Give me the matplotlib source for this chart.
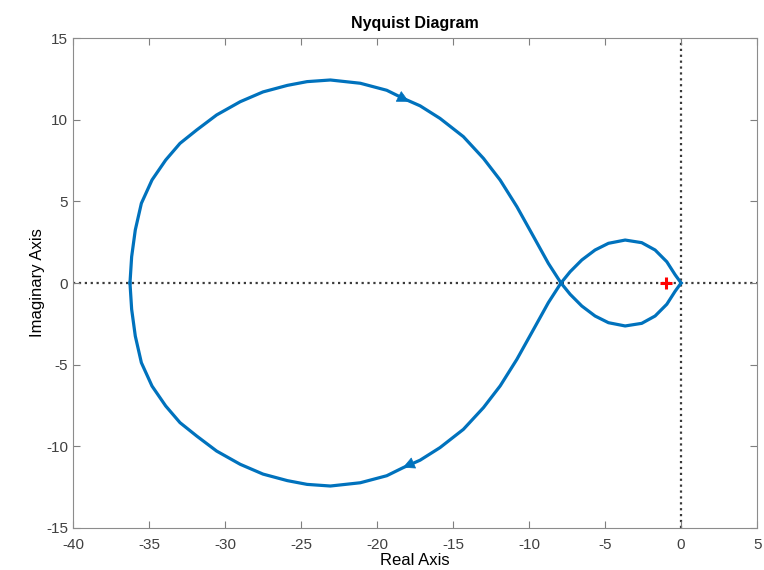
import matplotlib
matplotlib.use("Agg")
import matplotlib.pyplot as plt
import numpy as np

plt.rcParams['font.family'] = ['Liberation Sans', 'DejaVu Sans']
plt.rcParams['axes.unicode_minus'] = False

# one branch of the Nyquist curve, from w=0 to w=inf
re_branch = [-36.25, -36.14, -35.9, -35.5, -34.8, -33.9, -32.96, -31.86, -30.55,
             -29.0, -27.5, -25.9, -24.6, -23.07, -21.1, -19.36, -18.27, -17.17,
             -15.86, -14.32, -13.0, -11.9, -10.8, -9.7, -8.73, -7.9,
             -7.3, -6.53, -5.66, -4.78, -3.68, -2.59, -1.71, -0.94, -0.39, 0.0]
im_branch = [0.0, 1.61, 3.25, 4.88, 6.31, 7.53, 8.55, 9.37, 10.29,
             11.1, 11.7, 12.1, 12.33, 12.43, 12.23, 11.8, 11.3, 10.85,
             10.08, 8.96, 7.63, 6.3, 4.67, 2.83, 1.2, 0.0,
             -0.69, -1.41, -2.02, -2.43, -2.63, -2.47, -2.02, -1.3, -0.5, 0.0]

# arrow heads on the curve (tip, tail)
arrow_tip = [(-17.9, 11.1), (-18.3, -11.3)]
arrow_tail = [(-19.36, 11.8), (-17.17, -10.85)]

crit_re, crit_im = -1, 0

re = np.array(re_branch)
im = np.array(im_branch)

fig = plt.figure(figsize=(7.64, 5.70), dpi=100)
ax = fig.add_axes([0.0955, 0.0737, 0.8955, 0.8596])

blue = '#0072BD'
ax.axhline(0, color='#3a3a3a', ls=':', lw=1.6, zorder=1)
ax.axvline(0, color='#3a3a3a', ls=':', lw=1.6, zorder=1)

ax.plot(re, im, color=blue, lw=2.3, zorder=3, solid_joinstyle='round')
ax.plot(re, -im, color=blue, lw=2.3, zorder=3, solid_joinstyle='round')

for tip, tail in zip(arrow_tip, arrow_tail):
    ax.annotate('', xy=tip, xytext=tail,
                arrowprops=dict(arrowstyle='-|>,head_length=0.55,head_width=0.28',
                                color=blue, lw=0.5, mutation_scale=14,
                                shrinkA=0, shrinkB=0),
                zorder=4)

ax.plot(crit_re, crit_im, marker='+', color='red', ms=9, mew=2.2, zorder=5)

ax.set_xlim(-40, 5)
ax.set_ylim(-15, 15)
ax.set_xticks(np.arange(-40, 6, 5))
ax.set_yticks(np.arange(-15, 16, 5))
ax.tick_params(direction='in', top=True, right=True, labelsize=11,
               colors='#7f7f7f', labelcolor='#404040', length=5)
ax.tick_params(axis='x', pad=7)
for s in ax.spines.values():
    s.set_color('#8c8c8c')
    s.set_linewidth(0.8)

ax.set_title('Nyquist Diagram', fontsize=11.5, fontweight='bold', pad=7)
ax.set_xlabel('Real Axis', fontsize=12, labelpad=1)
ax.set_ylabel('Imaginary Axis', fontsize=12, labelpad=1)

fig.savefig('out.png', dpi=100)
